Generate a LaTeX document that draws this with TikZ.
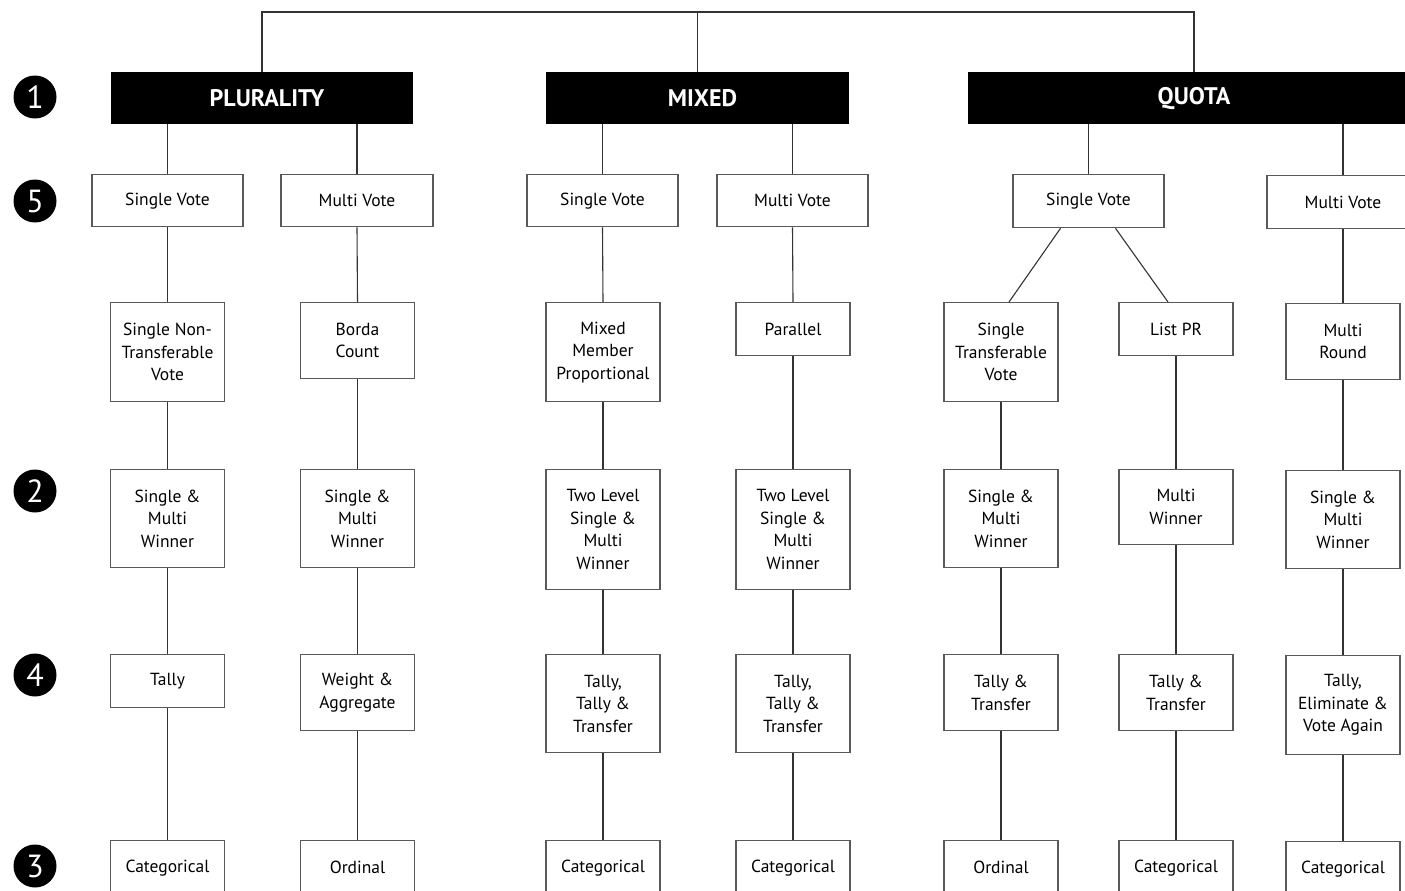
\documentclass[tikz,border=0pt]{standalone}
\usepackage{fontspec}
\setmainfont{PT Sans}
\usetikzlibrary{calc}
\begin{document}
\begin{tikzpicture}[x=1pt,y=-1pt,
  conn/.style={draw=black!80,line width=1.1pt},
  box/.style={draw=black!65,line width=1.3pt,fill=white,align=center,inner sep=0pt,
    anchor=north,minimum width=114pt,font=\fontsize{17.5}{22.5}\selectfont},
  head/.style={fill=black,text=white,inner sep=0pt,anchor=north,minimum height=52pt,
    font=\fontsize{24}{26}\selectfont\bfseries},
  num/.style={circle,fill=black,text=white,inner sep=0pt,minimum size=43pt,
    font=\fontsize{32}{32}\selectfont}
]
\useasboundingbox (0,0) rectangle (1405,891);
\clip (0,0) rectangle (1405,891);
% level numbers
\node[num] (n1) at (35,97) {1};
\node[num] (n5) at (35,201) {5};
\node[num] (n2) at (35,491) {2};
\node[num] (n4) at (35,675) {4};
\node[num] (n3) at (35,866) {3};
% headers
\node[head,minimum width=302pt] (plur) at (262,72) {\hspace*{10pt}PLURALITY};
\node[head,minimum width=303pt] (mix) at (697.5,72) {\hspace*{10pt}MIXED};
\node[head,minimum width=452pt] (quota) at (1194,72) {QUOTA};
\coordinate (tl) at (262,12);
\coordinate (tr) at (1194,12);
\draw[conn] (plur.north) -- (tl) -- (tr) -- (quota.north);
\draw[conn] (mix.north) -- (mix.north |- tl);
% row: votes
\node[box,minimum width=151pt,minimum height=52pt] (ps) at (167.5,174) {Single Vote};
\node[box,minimum width=152pt,minimum height=52pt] (pm) at (357,174) {Multi Vote};
\node[box,minimum width=151pt,minimum height=52pt] (ms) at (602.5,174) {Single Vote};
\node[box,minimum width=151pt,minimum height=52pt] (mm) at (792.5,174) {Multi Vote};
\node[box,minimum width=151pt,minimum height=53pt] (qs) at (1088.5,174) {Single Vote};
\node[box,minimum width=152pt,minimum height=53pt] (qm) at (1343,175) {Multi Vote};
% row: methods
\node[box,minimum height=99pt] (p1) at (167.5,302) {Single Non-\\Transferable\\Vote};
\node[box,minimum height=76pt] (p2) at (357.5,302) {Borda\\Count};
\node[box,minimum height=99pt] (m1) at (603,302) {Mixed\\Member\\Proportional};
\node[box,minimum height=53pt] (m2) at (793,302) {Parallel};
\node[box,minimum height=99pt] (q1) at (1001,302) {Single\\Transferable\\Vote};
\node[box,minimum height=53pt] (q2) at (1176,302) {List PR};
\node[box,minimum height=76pt] (q3) at (1343,303) {Multi\\Round};
% row: winners
\node[box,minimum height=98pt] (p1w) at (167.5,469) {Single \&\\Multi\\Winner};
\node[box,minimum height=98pt] (p2w) at (357.5,469) {Single \&\\Multi\\Winner};
\node[box,minimum height=120pt] (m1w) at (603,469) {Two Level\\Single \&\\Multi\\Winner};
\node[box,minimum height=120pt] (m2w) at (793,469) {Two Level\\Single \&\\Multi\\Winner};
\node[box,minimum height=98pt] (q1w) at (1001,469) {Single \&\\Multi\\Winner};
\node[box,minimum height=75pt] (q2w) at (1176,469) {Multi\\Winner};
\node[box,minimum height=98pt] (q3w) at (1343,470) {Single \&\\Multi\\Winner};
% row: counting
\node[box,minimum height=53pt] (p1t) at (167.5,654) {Tally};
\node[box,minimum height=76pt] (p2t) at (357.5,654) {Weight \&\\Aggregate};
\node[box,minimum height=98pt] (m1t) at (603,654) {Tally,\\Tally \&\\Transfer};
\node[box,minimum height=98pt] (m2t) at (793,654) {Tally,\\Tally \&\\Transfer};
\node[box,minimum height=76pt] (q1t) at (1001,654) {Tally \&\\Transfer};
\node[box,minimum height=76pt] (q2t) at (1176,654) {Tally \&\\Transfer};
\node[box,minimum height=99pt] (q3t) at (1343,655) {Tally,\\Eliminate \&\\Vote Again};
% row: ballot type
\node[box,minimum height=54pt] (p1b) at (167.5,840) {Categorical};
\node[box,minimum height=54pt] (p2b) at (357.5,840) {Ordinal};
\node[box,minimum height=54pt] (m1b) at (603,840) {Categorical};
\node[box,minimum height=54pt] (m2b) at (793,840) {Categorical};
\node[box,minimum height=54pt] (q1b) at (1001,840) {Ordinal};
\node[box,minimum height=54pt] (q2b) at (1176,840) {Categorical};
\node[box,minimum height=54pt] (q3b) at (1343,841) {Categorical};
% connectors from headers
\draw[conn] (ps.north |- plur.south) -- (ps.north);
\draw[conn] (pm.north |- plur.south) -- (pm.north);
\draw[conn] (ms.north |- mix.south) -- (ms.north);
\draw[conn] (mm.north |- mix.south) -- (mm.north);
\draw[conn] (qs.north |- quota.south) -- (qs.north);
\draw[conn] (qm.north |- quota.south) -- (qm.north);
% vertical chains
\draw[conn] (ps.south) -- (p1.north);
\draw[conn] (pm.south) -- (p2.north);
\draw[conn] (ms.south) -- (m1.north);
\draw[conn] (mm.south) -- (m2.north);
\draw[conn] (qm.south) -- (q3.north);
\draw[conn] ($(qs.south)+(-28,0)$) -- ($(q1.north)+(8,0)$);
\draw[conn] ($(qs.south)+(27,0)$) -- ($(q2.north)+(-8,0)$);
\foreach \a/\b in {p1/p1w,p2/p2w,m1/m1w,m2/m2w,q1/q1w,q2/q2w,q3/q3w,
  p1w/p1t,p2w/p2t,m1w/m1t,m2w/m2t,q1w/q1t,q2w/q2t,q3w/q3t,
  p1t/p1b,p2t/p2b,m1t/m1b,m2t/m2b,q1t/q1b,q2t/q2b,q3t/q3b}
  \draw[conn] (\a.south) -- (\b.north);
\end{tikzpicture}
\end{document}
